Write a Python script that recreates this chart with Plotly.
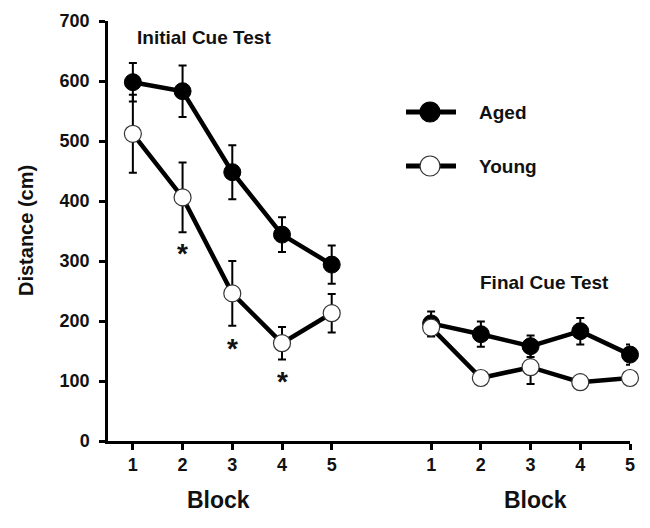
import plotly.graph_objects as go

# ---- data ----
blocks = [1, 2, 3, 4, 5]
block_labels = ["1", "2", "3", "4", "5"]
# Initial cue test
aged_initial = [598, 583, 448, 344, 294]
aged_initial_err = [32, 43, 45, 29, 32]
young_initial = [512, 406, 246, 163, 213]
young_initial_err = [65, 58, 54, 27, 32]
# Final cue test
aged_final = [196, 178, 158, 183, 144]
aged_final_err = [20, 21, 18, 22, 17]
young_final = [189, 105, 123, 98, 105]
young_final_err = [15, 5, 28, 5, 8]
# significance markers (initial test, young group)
sig_blocks = [2, 3, 4]
sig_y = [312, 155, 99]
series_names = ["Aged", "Young"]

OFFSET = 6  # final test plotted after a gap on the same axis
x_all = blocks + [None] + [b + OFFSET for b in blocks]
tick_vals = blocks + [b + OFFSET for b in blocks]
tick_text = block_labels + block_labels

FONT = "Liberation Sans, Arial, sans-serif"

# plot area in window pixels (page has an 8px body margin)
PX0, PX1, PY0, PY1 = 108, 630, 21, 441
def px(sx):
    return (sx - PX0) / (PX1 - PX0)
def py(sy):
    return (PY1 - sy) / (PY1 - PY0)

fig = go.Figure()

fig.add_trace(go.Scatter(
    x=x_all, y=aged_initial + [None] + aged_final,
    error_y=dict(type="data", array=aged_initial_err + [None] + aged_final_err,
                 color="black", thickness=2, width=4),
    mode="lines+markers", name=series_names[0],
    line=dict(color="black", width=4.5),
    marker=dict(size=17, color="black", line=dict(color="black", width=1)),
    connectgaps=False, cliponaxis=False,
))
fig.add_trace(go.Scatter(
    x=x_all, y=young_initial + [None] + young_final,
    error_y=dict(type="data", array=young_initial_err + [None] + young_final_err,
                 color="black", thickness=2, width=4),
    mode="lines+markers", name=series_names[1],
    line=dict(color="black", width=4.5),
    marker=dict(size=17, color="white", line=dict(color="#333", width=1.2)),
    connectgaps=False, cliponaxis=False,
))

for xb, yv in zip(sig_blocks, sig_y):
    fig.add_annotation(x=xb, y=yv, xref="x", yref="y", text="*", showarrow=False,
                       font=dict(family=FONT, size=28, color="#111", weight="bold"))

ann_font = dict(family=FONT, size=19, color="#111", weight="bold")
fig.add_annotation(x=px(204), y=py(38), xref="paper", yref="paper", text="Initial Cue Test",
                   showarrow=False, font=ann_font, xanchor="center", yanchor="middle")
fig.add_annotation(x=px(544), y=py(282), xref="paper", yref="paper", text="Final Cue Test",
                   showarrow=False, font=ann_font, xanchor="center", yanchor="middle")

block_font = dict(family=FONT, size=23, color="#111", weight="bold")
fig.add_annotation(x=px(218), y=py(500), xref="paper", yref="paper", text="Block",
                   showarrow=False, font=block_font, xanchor="center", yanchor="middle")
fig.add_annotation(x=px(535), y=py(500), xref="paper", yref="paper", text="Block",
                   showarrow=False, font=block_font, xanchor="center", yanchor="middle")
fig.add_annotation(x=px(26), y=py(231), xref="paper", yref="paper", text="Distance (cm)",
                   textangle=-90, showarrow=False,
                   font=dict(family=FONT, size=20, color="#111", weight="bold"),
                   xanchor="center", yanchor="middle")

# manual legend (line sample + marker + label)
leg_rows = [(112, "black", "black"), (166, "white", "#333")]
for (sy, fill, edge), name in zip(leg_rows, series_names):
    fig.add_shape(type="line", xref="paper", yref="paper",
                  x0=px(406), x1=px(456), y0=py(sy), y1=py(sy),
                  line=dict(color="black", width=5))
    r = 10
    fig.add_shape(type="circle", xref="paper", yref="paper",
                  x0=px(430 - r), x1=px(430 + r), y0=py(sy + r), y1=py(sy - r),
                  fillcolor=fill, line=dict(color=edge, width=1.2))
    fig.add_annotation(x=px(477), y=py(sy), xref="paper", yref="paper", text=name,
                       showarrow=False, xanchor="left", yanchor="middle",
                       font=dict(family=FONT, size=19, color="#111", weight="bold"))

tick_font = dict(family=FONT, size=18, color="#111", weight="bold")
fig.update_xaxes(range=[0.5, 11], tickvals=tick_vals, ticktext=tick_text,
                 showline=True, linecolor="black", linewidth=2.5,
                 ticks="outside", ticklen=6, tickwidth=2.5, tickcolor="black",
                 showgrid=False, zeroline=False, tickfont=tick_font, automargin=False)
fig.update_yaxes(range=[0, 700], dtick=100,
                 showline=True, linecolor="black", linewidth=2.5,
                 ticks="outside", ticklen=6, tickwidth=2.5, tickcolor="black",
                 showgrid=False, zeroline=False, tickfont=tick_font, automargin=False,
                 ticklabelstandoff=6)

fig.update_layout(
    width=650, height=528,
    margin=dict(l=PX0 - 8, r=650 - (PX1 - 8), t=PY0 - 8, b=528 - (PY1 - 8)),
    plot_bgcolor="white", paper_bgcolor="white",
    showlegend=False,
)

fig.write_html("out.html")
